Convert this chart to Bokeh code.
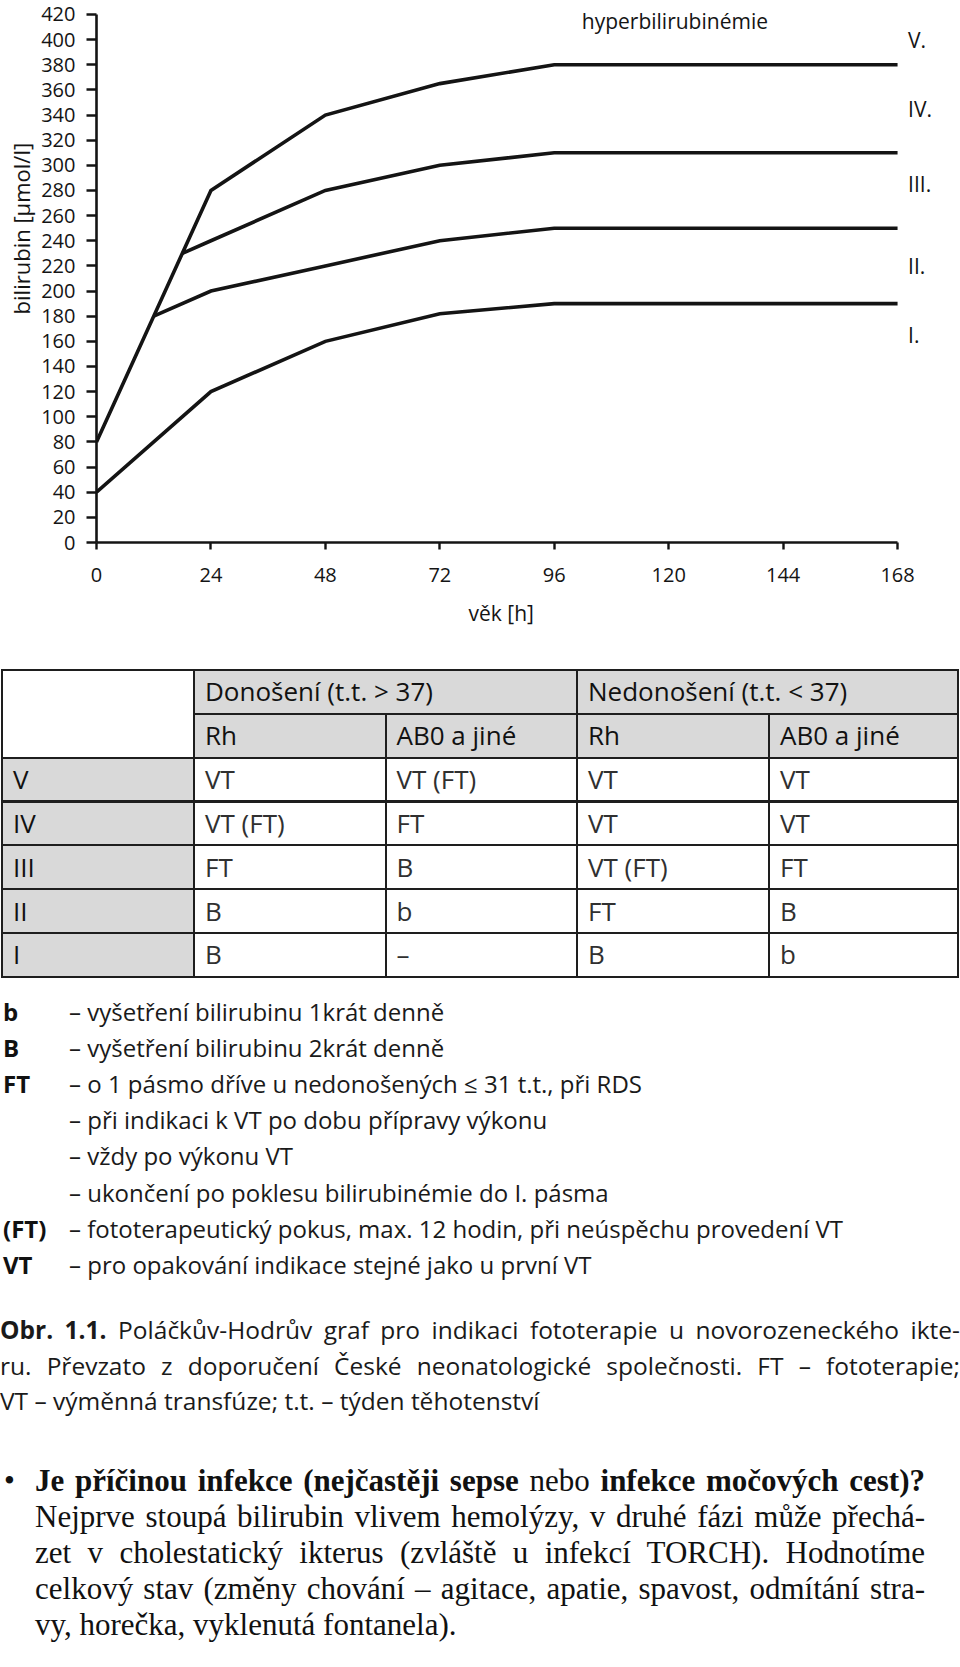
from bokeh.plotting import figure
from bokeh.models import Range1d, FixedTicker, Div
from bokeh.layouts import column
from bokeh.core.properties import value
from bokeh.embed import file_html
from bokeh.resources import INLINE

# ---------------- data: zone boundaries of the Poláček-Hodr chart ----------------
hours_IV_V = [0, 24, 48, 72, 96, 168]
bili_IV_V = [80, 280, 340, 365, 380, 380]
hours_III_IV = [18, 24, 48, 72, 96, 168]
bili_III_IV = [230, 240, 280, 300, 310, 310]
hours_II_III = [12, 24, 48, 72, 96, 168]
bili_II_III = [180, 200, 220, 240, 250, 250]
hours_I_II = [0, 24, 48, 72, 96, 168]
bili_I_II = [40, 120, 160, 182, 190, 190]

x_ticks = [0, 24, 48, 72, 96, 120, 144, 168]
y_ticks = [0, 20, 40, 60, 80, 100, 120, 140, 160, 180, 200, 220, 240, 260, 280, 300,
           320, 340, 360, 380, 400, 420]

zone_labels = ["V.", "IV.", "III.", "II.", "I."]
zone_label_bili = [400, 345, 285, 220, 165]

# ---------------- table data ----------------
group_headers = ["Donošení (t.t. > 37)", "Nedonošení (t.t. < 37)"]
sub_headers = ["Rh", "AB0 a jiné", "Rh", "AB0 a jiné"]
row_labels = ["V", "IV", "III", "II", "I"]
cells = [
    ["VT", "VT (FT)", "VT", "VT"],
    ["VT (FT)", "FT", "VT", "VT"],
    ["FT", "B", "VT (FT)", "FT"],
    ["B", "b", "FT", "B"],
    ["B", "–", "B", "b"],
]

legend_keys = ["b", "B", "FT", "", "", "", "(FT)", "VT"]
legend_texts = [
    "– vyšetření bilirubinu 1krát denně",
    "– vyšetření bilirubinu 2krát denně",
    "– o 1 pásmo dříve u nedonošených ≤ 31 t.t., při RDS",
    "– při indikaci k VT po dobu přípravy výkonu",
    "– vždy po výkonu VT",
    "– ukončení po poklesu bilirubinémie do I. pásma",
    "– fototerapeutický pokus, max. 12 hodin, při neúspěchu provedení VT",
    "– pro opakování indikace stejné jako u první VT",
]

caption_lines = [
    "<b>Obr. 1.1.</b> Poláčkův-Hodrův graf pro indikaci fototerapie u novorozeneckého ikte-",
    "ru. Převzato z doporučení České neonatologické společnosti. FT – fototerapie;",
    "VT – výměnná transfúze; t.t. – týden těhotenství",
]
bullet_lines = [
    "<b>Je příčinou infekce (nejčastěji sepse</b> nebo <b>infekce močových cest)?</b>",
    "Nejprve stoupá bilirubin vlivem hemolýzy, v druhé fázi může přechá-",
    "zet v cholestatický ikterus (zvláště u infekcí TORCH). Hodnotíme",
    "celkový stav (změny chování – agitace, apatie, spavost, odmítání stra-",
    "vy, horečka, vyklenutá fontanela).",
]

SANS = "'Open Sans', sans-serif"
INK = "#141414"
NB = "\u00a0"

# ---------------- chart ----------------
p = figure(width=960, height=650, x_range=Range1d(0, 181.2), y_range=Range1d(0, 431.1),
           output_backend="svg", toolbar_location=None,
           min_border_left=96, min_border_right=0, min_border_top=0, min_border_bottom=108)
p.outline_line_color = None
p.grid.visible = False
p.background_fill_color = "white"
p.border_fill_color = "white"

p.xaxis.ticker = FixedTicker(ticks=x_ticks)
p.yaxis.ticker = FixedTicker(ticks=y_ticks)
p.xaxis.bounds = (0, 168)
p.yaxis.bounds = (0, 420)
for ax in p.axis:
    ax.axis_line_width = 2.6
    ax.axis_line_color = INK
    ax.major_tick_line_width = 2.4
    ax.major_tick_line_color = INK
    ax.minor_tick_line_color = None
    ax.major_tick_in = 0
    ax.major_label_text_font = SANS
    ax.major_label_text_font_size = "20px"
    ax.major_label_text_color = INK
    ax.axis_label_text_font = SANS
    ax.axis_label_text_font_style = "normal"
    ax.axis_label_text_color = INK
p.xaxis.major_tick_out = 7
p.xaxis.major_label_standoff = 18
# non-breaking spaces shift the centred titles to where the original has them
p.xaxis.axis_label = "věk [h]" + NB * 10
p.xaxis.axis_label_text_font_size = "21px"
p.xaxis.axis_label_standoff = 14
p.yaxis.major_tick_out = 10
p.yaxis.major_label_standoff = 11
p.yaxis.axis_label = NB * 15 + "bilirubin [μmol/l]"
p.yaxis.axis_label_text_font_size = "22px"
p.yaxis.axis_label_standoff = 2

for hx, by in [(hours_IV_V, bili_IV_V), (hours_III_IV, bili_III_IV),
               (hours_II_III, bili_II_III), (hours_I_II, bili_I_II)]:
    p.line(hx, by, line_width=3.6, line_color=INK, line_join="miter")

p.text(x=[121.3], y=[415], text=["hyperbilirubinémie"], text_align="center",
       text_baseline="middle", text_font=value(SANS), text_font_size="21px", text_color=INK)
p.text(x=[170.2] * len(zone_labels), y=zone_label_bili, text=zone_labels, text_align="left",
       text_baseline="middle", text_font=value(SANS), text_font_size="21px", text_color=INK)

# ---------------- table + legend (HTML built from the arrays) ----------------
SEC_TOP = 650
col_edges = [2, 194, 385.5, 577, 769, 958]
table_top = 670
row_h = 43.85
row_edges = [table_top + i * row_h for i in range(2 + len(row_labels) + 1)]
GRAY = "#d9d9d9"

parts = []


def cell(c0, c1, r0, r1, fill, label, color):
    left = col_edges[c0] - 1
    top = row_edges[r0] - SEC_TOP - 1
    w = col_edges[c1] - col_edges[c0] + 2
    h = row_edges[r1] - row_edges[r0] + 2
    parts.append(
        '<div style="position:absolute;left:%.1fpx;top:%.1fpx;width:%.1fpx;height:%.1fpx;'
        'box-sizing:border-box;border:2px solid #1e1e1e;background:%s;display:flex;'
        'align-items:center;padding-left:10px;font-family:%s;font-size:26px;color:%s;'
        'white-space:nowrap;">%s</div>' % (left, top, w, h, fill, SANS, color, label))


cell(0, 1, 0, 2, "white", "", INK)
for g, name in enumerate(group_headers):
    cell(1 + 2 * g, 3 + 2 * g, 0, 1, GRAY, name, "#111111")
for j, name in enumerate(sub_headers):
    cell(1 + j, 2 + j, 1, 2, GRAY, name, "#111111")
for i, lab in enumerate(row_labels):
    cell(0, 1, 2 + i, 3 + i, GRAY, lab, "#111111")
    for j, v in enumerate(cells[i]):
        cell(1 + j, 2 + j, 2 + i, 3 + i, "white", v, "#303030")

leg_top = 1011.5
leg_step = 36.2
LH = 36
for i, (k, d) in enumerate(zip(legend_keys, legend_texts)):
    yc = leg_top + i * leg_step - SEC_TOP
    parts.append('<div style="position:absolute;left:3px;top:%.1fpx;height:%dpx;line-height:%dpx;'
                 'font-family:%s;font-weight:bold;font-size:24px;color:#111;white-space:nowrap;">%s</div>'
                 % (yc - LH / 2, LH, LH, SANS, k))
    parts.append('<div style="position:absolute;left:69px;top:%.1fpx;height:%dpx;line-height:%dpx;'
                 'font-family:%s;font-size:24px;color:#1a1a1a;white-space:nowrap;">%s</div>'
                 % (yc - LH / 2, LH, LH, SANS, d))

table_html = ('<div style="position:relative;width:960px;height:650px;background:white;">'
              + "".join(parts) + "</div>")
table_div = Div(text=table_html, width=960, height=650, margin=0)

# ---------------- caption + bullet paragraph ----------------
just = "text-align:justify;text-align-last:justify;"
cap_html = ('<div style="font-family:\'Open Sans\',sans-serif;font-size:24.5px;line-height:35.5px;'
            'color:#1a1a1a;width:960px;padding-top:12px;">'
            + "".join('<div style="%s">%s</div>' % (just if k < len(caption_lines) - 1 else "", s)
                      for k, s in enumerate(caption_lines))
            + "</div>")
caption = Div(text=cap_html, width=960, height=140, margin=0)

bul_html = ('<div style="position:relative;font-family:\'Liberation Serif\',serif;font-size:31px;'
            'line-height:36px;color:#111;width:925px;padding-left:35px;padding-top:23px;">'
            '<span style="position:absolute;left:4px;top:23px;">•</span>'
            + "".join('<div style="%s">%s</div>' % (just if k < len(bullet_lines) - 1 else "", s)
                      for k, s in enumerate(bullet_lines))
            + "</div>")
bullet = Div(text=bul_html, width=960, height=227, margin=0)

page = column(p, table_div, caption, bullet, spacing=0)
open("out.html", "w").write(file_html(page, INLINE))
